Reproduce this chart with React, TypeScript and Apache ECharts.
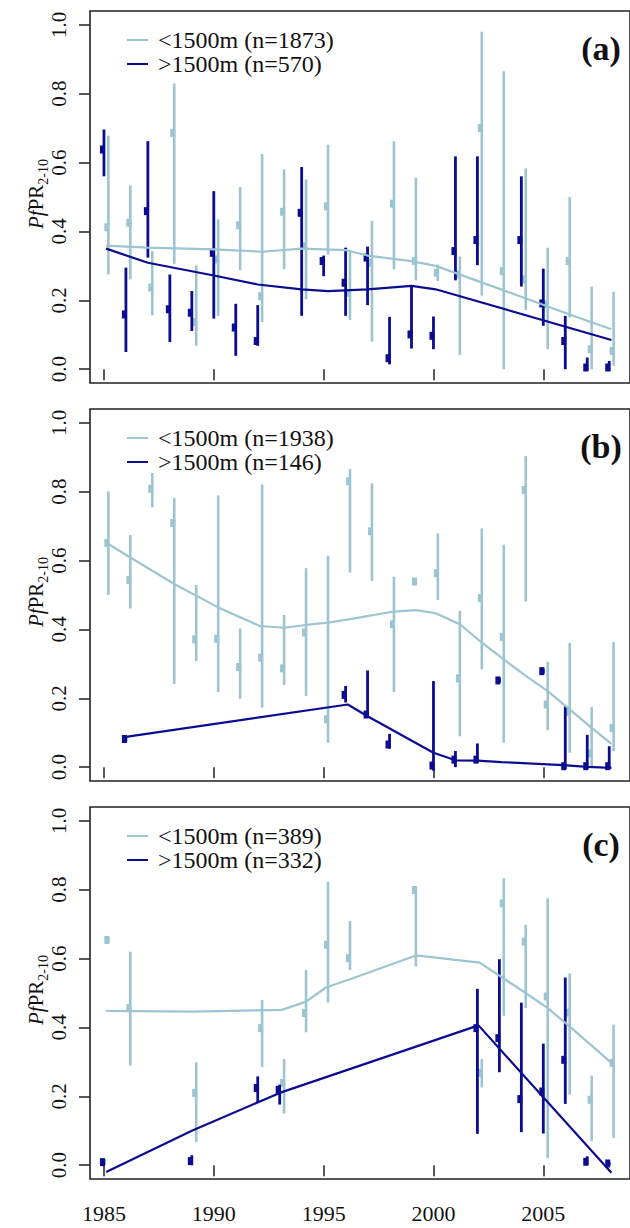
import React, { useEffect, useRef } from "react";
import * as echarts from "echarts";

// ---------- data ----------
const X_TICKS = [1985, 1990, 1995, 2000, 2005];
const Y_TICKS = [0, 0.2, 0.4, 0.6, 0.8, 1.0];
const PANEL_TAGS = ["(a)", "(b)", "(c)"];
const N_LOW = [1873, 1938, 389];
const N_HIGH = [570, 146, 332];

// [year, mean, lower, upper]
const A_LOW = [
  [1985, 0.412, 0.275, 0.678], [1986, 0.425, 0.261, 0.534], [1987, 0.237, 0.157, 0.343],
  [1988, 0.686, 0.306, 0.829], [1989, 0.137, 0.068, 0.302], [1990, 0.319, 0.155, 0.435],
  [1991, 0.418, 0.288, 0.529], [1992, 0.212, 0.137, 0.625], [1993, 0.457, 0.29, 0.58],
  [1994, 0.357, 0.203, 0.551], [1995, 0.473, 0.333, 0.652], [1996, 0.222, 0.143, 0.343],
  [1997, 0.309, 0.08, 0.43], [1998, 0.481, 0.29, 0.662], [1999, 0.314, 0.258, 0.556],
  [2000, 0.28, 0.256, 0.304], [2001, 0.275, 0.041, 0.327], [2002, 0.7, 0.214, 0.98],
  [2003, 0.285, 0.0, 0.865], [2004, 0.261, 0.172, 0.583], [2005, 0.188, 0.058, 0.353],
  [2006, 0.314, 0.15, 0.5], [2007, 0.058, 0.0, 0.24], [2008, 0.053, 0.01, 0.225],
];
const A_HIGH = [
  [1985, 0.638, 0.56, 0.696], [1986, 0.159, 0.05, 0.295], [1987, 0.459, 0.324, 0.662],
  [1988, 0.174, 0.079, 0.275], [1989, 0.164, 0.111, 0.227], [1990, 0.338, 0.147, 0.517],
  [1991, 0.121, 0.039, 0.19], [1992, 0.082, 0.068, 0.186], [1994, 0.454, 0.155, 0.587],
  [1995, 0.314, 0.27, 0.33], [1996, 0.251, 0.155, 0.353], [1997, 0.324, 0.186, 0.356],
  [1998, 0.032, 0.014, 0.152], [1999, 0.101, 0.06, 0.242], [2000, 0.097, 0.058, 0.153],
  [2001, 0.343, 0.258, 0.618], [2002, 0.375, 0.302, 0.618], [2004, 0.375, 0.24, 0.56],
  [2005, 0.191, 0.126, 0.292], [2006, 0.082, 0.0, 0.155], [2007, 0.005, -0.005, 0.034],
  [2008, 0.005, -0.005, 0.024],
];
const A_LOW_TREND = [
  [1985.1, 0.359], [1987, 0.353], [1990, 0.348], [1992.2, 0.341], [1994, 0.35], [1996, 0.346],
  [1997, 0.33], [1999, 0.314], [2000.1, 0.3], [2003.2, 0.229], [2006.2, 0.159], [2008.1, 0.116],
];
const A_HIGH_TREND = [
  [1985.1, 0.35], [1987, 0.309], [1990, 0.272], [1992, 0.246], [1994, 0.232], [1995.2, 0.227],
  [1997, 0.232], [1999, 0.242], [2000.1, 0.232], [2008.1, 0.085],
];

const B_LOW = [
  [1985, 0.651, 0.5, 0.801], [1986, 0.544, 0.461, 0.674], [1987, 0.808, 0.755, 0.854],
  [1988, 0.709, 0.242, 0.782], [1989, 0.371, 0.308, 0.529], [1990, 0.373, 0.218, 0.789],
  [1991, 0.291, 0.199, 0.403], [1992, 0.318, 0.173, 0.821], [1993, 0.287, 0.239, 0.442],
  [1994, 0.391, 0.207, 0.578], [1995, 0.139, 0.071, 0.614], [1996, 0.83, 0.565, 0.866],
  [1997, 0.685, 0.541, 0.824], [1998, 0.415, 0.218, 0.553], [1999, 0.539, 0.53, 0.548],
  [2000, 0.563, 0.485, 0.679], [2001, 0.258, 0.09, 0.454], [2002, 0.491, 0.284, 0.693],
  [2003, 0.378, 0.071, 0.646], [2004, 0.805, 0.481, 0.903], [2005, 0.182, 0.107, 0.306],
  [2006, 0.16, 0.042, 0.361], [2007, 0.04, 0.0, 0.175], [2008, 0.114, 0.047, 0.363],
];
const B_HIGH = [
  [1986, 0.082, 0.075, 0.09], [1996, 0.21, 0.188, 0.236], [1997, 0.153, 0.144, 0.281],
  [1998, 0.066, 0.054, 0.097], [2000, 0.005, -0.01, 0.25], [2001, 0.022, 0.0, 0.047],
  [2002, 0.022, 0.013, 0.069], [2003, 0.252, 0.245, 0.26], [2005, 0.279, 0.272, 0.286],
  [2006, 0.003, -0.005, 0.178], [2007, 0.003, -0.005, 0.094], [2008, 0.003, -0.005, 0.061],
];
const B_LOW_TREND = [
  [1985.2, 0.648], [1986.2, 0.609], [1988.2, 0.532], [1990.2, 0.464], [1992.1, 0.41],
  [1993.2, 0.405], [1994.2, 0.413], [1995.2, 0.42], [1996.2, 0.43], [1998.2, 0.452],
  [1999.2, 0.456], [2000.1, 0.447], [2001.2, 0.415], [2002.2, 0.362], [2003.2, 0.313],
  [2004.2, 0.265], [2005.2, 0.221], [2006.2, 0.168], [2007.2, 0.114], [2008.1, 0.068],
];
const B_HIGH_TREND = [
  [1986, 0.088], [1996.1, 0.182], [1997, 0.148], [2000, 0.042], [2001, 0.02], [2002, 0.019],
  [2003.1, 0.015], [2005.9, 0.006], [2007, 0.001], [2008.1, -0.002],
];

const C_LOW = [
  [1985, 0.654, 0.645, 0.664], [1986, 0.456, 0.289, 0.62], [1989, 0.21, 0.067, 0.299],
  [1992, 0.398, 0.285, 0.48], [1993, 0.239, 0.15, 0.308], [1994, 0.442, 0.386, 0.567],
  [1995, 0.64, 0.472, 0.823], [1996, 0.601, 0.567, 0.709], [1999, 0.799, 0.577, 0.81],
  [2002, 0.268, 0.226, 0.308], [2003, 0.76, 0.434, 0.833], [2004, 0.649, 0.456, 0.698],
  [2005, 0.49, 0.021, 0.775], [2006, 0.443, 0.205, 0.557], [2007, 0.19, 0.07, 0.26],
  [2008, 0.297, 0.079, 0.408],
];
const C_HIGH = [
  [1985, 0.009, 0.0, 0.018], [1989, 0.012, 0.0, 0.029], [1992, 0.224, 0.181, 0.258],
  [1993, 0.219, 0.176, 0.234], [2002, 0.398, 0.091, 0.512], [2003, 0.369, 0.27, 0.598],
  [2004, 0.192, 0.096, 0.472], [2005, 0.214, 0.092, 0.353], [2006, 0.306, 0.178, 0.545],
  [2007, 0.01, 0.0, 0.026], [2008, 0.005, 0.0, 0.009],
];
const C_LOW_TREND = [
  [1985.1, 0.448], [1989, 0.446], [1993.1, 0.451], [1994.2, 0.475], [1995.1, 0.516],
  [1996.2, 0.54], [1999.2, 0.609], [2002.1, 0.588], [2004.2, 0.5], [2005.2, 0.456],
  [2006.1, 0.408], [2008.1, 0.297],
];
const C_HIGH_TREND = [
  [1985.1, -0.02], [1989, 0.1], [1993, 0.21], [2002.05, 0.406], [2008.1, -0.022],
];

const PANELS = [
  { low: A_LOW, high: A_HIGH, lowTrend: A_LOW_TREND, highTrend: A_HIGH_TREND },
  { low: B_LOW, high: B_HIGH, lowTrend: B_LOW_TREND, highTrend: B_HIGH_TREND },
  { low: C_LOW, high: C_HIGH, lowTrend: C_LOW_TREND, highTrend: C_HIGH_TREND },
];

// ---------- styles ----------
const LIGHT = "#9cc5d1";
const DARK = "#0c0c92";
const SERIF = "Liberation Serif";
const GRID_LEFT = 90;
const GRID_TOPS = [11, 409, 807];
const GRID_H = 372;
const GRID_W = 542;
const X_MIN = 1984.365;
const X_MAX = 2008.946;
const LOW_SHIFT = 0.2;

function ciSeries(data: number[][], color: string, idx: number, shift: number, lw: number, name: string) {
  return {
    type: "custom",
    name,
    xAxisIndex: idx,
    yAxisIndex: idx,
    clip: false,
    z: color === DARK ? 3 : 2,
    data: data.map((d) => [d[0] + shift, d[1], d[2], d[3]]),
    encode: { x: 0, y: [1, 2, 3] },
    renderItem: (params: any, api: any) => {
      const x = api.value(0);
      const pLo = api.coord([x, api.value(2)]);
      const pHi = api.coord([x, api.value(3)]);
      const pM = api.coord([x, api.value(1)]);
      return {
        type: "group",
        children: [
          {
            type: "line",
            shape: { x1: pLo[0], y1: pLo[1], x2: pHi[0], y2: pHi[1] },
            style: { stroke: color, lineWidth: lw },
          },
          {
            type: "rect",
            shape: { x: pM[0] - 4, y: pM[1] - 4, width: 5, height: 8 },
            style: { fill: color },
          },
        ],
      };
    },
  };
}

export default function App() {
  const ref = useRef<HTMLDivElement>(null);
  useEffect(() => {
    if (!ref.current) return;
    const chart = echarts.init(ref.current, null, { renderer: "svg" });
    const grid: any[] = [];
    const xAxis: any[] = [];
    const yAxis: any[] = [];
    const series: any[] = [];
    const graphic: any[] = [];

    PANELS.forEach((p, i) => {
      const top = GRID_TOPS[i];
      grid.push({
        left: GRID_LEFT,
        top,
        width: GRID_W,
        height: GRID_H,
        show: true,
        borderColor: "#222",
        borderWidth: 1.6,
        backgroundColor: "transparent",
      });
      xAxis.push({
        type: "value",
        gridIndex: i,
        min: X_MIN,
        max: X_MAX,
        axisLine: { show: false },
        splitLine: { show: false },
        axisTick: {
          show: true,
          customValues: X_TICKS,
          length: 11,
          lineStyle: { color: "#222", width: 1.5 },
        },
        axisLabel: {
          show: i === 2,
          customValues: X_TICKS,
          margin: 23,
          fontFamily: SERIF,
          fontSize: 22,
          color: "#111",
          formatter: (v: number) => String(Math.round(v)),
        },
      });
      yAxis.push({
        type: "value",
        gridIndex: i,
        min: -0.04,
        max: 1.04,
        axisLine: { show: false },
        splitLine: { show: false },
        axisTick: {
          show: true,
          customValues: Y_TICKS,
          length: 11,
          lineStyle: { color: "#222", width: 1.5 },
        },
        axisLabel: {
          customValues: Y_TICKS,
          rotate: 90,
          margin: 21,
          fontFamily: SERIF,
          fontSize: 21,
          color: "#111",
          formatter: (v: number) => v.toFixed(1),
        },
      });
      const lowName = `<1500m (n=${N_LOW[i]})`;
      const highName = `>1500m (n=${N_HIGH[i]})`;
      series.push(ciSeries(p.low, LIGHT, i, LOW_SHIFT, 2.6, lowName + " CI"));
      series.push(ciSeries(p.high, DARK, i, 0, 2.8, highName + " CI"));
      series.push({
        type: "line",
        name: lowName,
        xAxisIndex: i,
        yAxisIndex: i,
        data: p.lowTrend,
        showSymbol: false,
        symbol: "none",
        z: 4,
        lineStyle: { color: LIGHT, width: 2.2 },
      });
      series.push({
        type: "line",
        name: highName,
        xAxisIndex: i,
        yAxisIndex: i,
        data: p.highTrend,
        showSymbol: false,
        symbol: "none",
        z: 5,
        lineStyle: { color: DARK, width: 2.2 },
      });

      // legend
      const rows = [
        { text: lowName, color: LIGHT, dy: 29 },
        { text: highName, color: DARK, dy: 53 },
      ];
      rows.forEach((r) => {
        graphic.push({
          type: "line",
          shape: { x1: 127, y1: top + r.dy, x2: 148, y2: top + r.dy },
          style: { stroke: r.color, lineWidth: 2 },
        });
        graphic.push({
          type: "text",
          x: 158,
          y: top + r.dy,
          style: {
            text: r.text,
            fontFamily: SERIF,
            fontSize: 24,
            fill: "#111",
            align: "left",
            verticalAlign: "middle",
          },
        });
      });
      // panel tag
      graphic.push({
        type: "text",
        x: 601,
        y: top + 37,
        style: {
          text: PANEL_TAGS[i],
          fontFamily: SERIF,
          fontSize: 34,
          fontWeight: "bold",
          fill: "#111",
          align: "center",
          verticalAlign: "middle",
        },
      });
      // y title
      graphic.push({
        type: "text",
        x: 34,
        y: top + 183,
        rotation: Math.PI / 2,
        style: {
          text: "{i|Pf}{n|PR}{s|2-10}",
          align: "center",
          verticalAlign: "middle",
          fill: "#111",
          rich: {
            i: { fontFamily: SERIF, fontSize: 21, fontStyle: "italic", lineHeight: 24, verticalAlign: "bottom" },
            n: { fontFamily: SERIF, fontSize: 21, lineHeight: 24, verticalAlign: "bottom" },
            s: { fontFamily: SERIF, fontSize: 14, lineHeight: 14, verticalAlign: "bottom", padding: [0, 0, -4, 0] },
          },
        },
      });
    });

    chart.setOption({
      animation: false,
      backgroundColor: "#fff",
      grid,
      xAxis,
      yAxis,
      series,
      graphic,
    });
    return () => chart.dispose();
  }, []);
  return (
    <div
      ref={ref}
      style={{ position: "fixed", left: 0, top: 0, width: 630, height: 1228, background: "#fff" }}
    />
  );
}
